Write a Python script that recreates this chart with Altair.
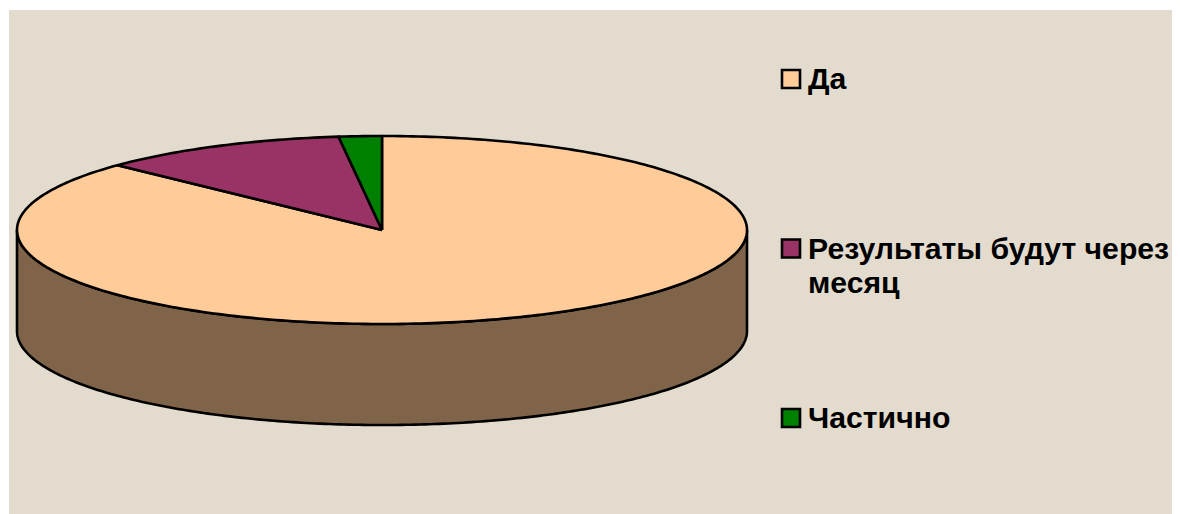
import math
import altair as alt
import pandas as pd

categories = ["Да", "Результаты будут через\nмесяц", "Частично"]
shares = [87.1, 11.0, 1.9]
slice_colors = ["#FFCC99", "#993366", "#008000"]
SIDE_COLOR = "#7F644A"
BG = "#E2DBCE"
DEPTH = 101 / 94  # pie thickness, in vertical radius units

# Wedge outlines on a unit circle; the x/y scales squash it into the ellipse.
rows = []
start = 0.0
total = sum(shares)
for cat, share in zip(categories, shares):
    end = start + share / total * 2 * math.pi
    n = max(4, int((end - start) * 60))
    pts = [(0.0, 0.0)] + [
        (math.sin(start + (end - start) * i / n), math.cos(start + (end - start) * i / n))
        for i in range(n + 1)
    ] + [(0.0, 0.0)]
    for k, (u, v) in enumerate(pts):
        rows.append({"cat": cat, "k": k, "u": u, "v": v})
    start = end
wedges = pd.DataFrame(rows)

side = pd.DataFrame(
    [
        {"u": math.cos(math.pi * i / 240), "v": -math.sin(math.pi * i / 240),
         "v2": -math.sin(math.pi * i / 240) - DEPTH}
        for i in range(241)
    ]
)
legend_df = pd.DataFrame(
    {"cat": categories, "color": slice_colors, "row": list(range(len(categories)))}
)

x_scale = alt.Scale(domain=[-373 / 365, 790 / 365], nice=False, zero=False)
y_scale = alt.Scale(domain=[-284 / 94, 220 / 94], nice=False, zero=False)
x_enc = alt.X("u:Q", scale=x_scale, axis=None)
y_enc = alt.Y("v:Q", scale=y_scale, axis=None)

side_layer = (
    alt.Chart(side)
    .mark_area(fill=SIDE_COLOR, stroke="black", strokeWidth=2.6, orient="vertical")
    .encode(
        x=x_enc,
        y=alt.Y("v:Q", scale=y_scale, axis=None, stack=None),
        y2="v2:Q",
    )
)

wedge_layers = [
    alt.Chart(wedges[wedges.cat == cat])
    .mark_line(fill=col, stroke="black", strokeWidth=2.6, strokeJoin="round", interpolate="linear")
    .encode(x=x_enc, y=y_enc, order="k:Q")
    for cat, col in zip(categories, slice_colors)
]

legend_y = alt.Y(
    "row:Q",
    scale=alt.Scale(domain=[0, len(categories) - 1], range=[69, 408], nice=False, zero=False),
    axis=None,
)
legend_symbols = (
    alt.Chart(legend_df)
    .mark_square(size=324, stroke="black", strokeWidth=2.6, opacity=1)
    .encode(
        x=alt.value(782),
        y=legend_y,
        fill=alt.Fill("color:N", scale=None),
    )
)
legend_text = (
    alt.Chart(legend_df)
    .mark_text(
        align="left",
        baseline="top",
        dy=-14,
        font="Liberation Sans",
        fontSize=30.2,
        fontWeight="bold",
        color="black",
        lineBreak="\n",
        lineHeight=34,
    )
    .encode(x=alt.value(799), y=legend_y, text="cat:N")
)

pie = alt.layer(side_layer, *wedge_layers)
legend = alt.layer(legend_symbols, legend_text)

chart = (
    alt.layer(pie, legend)
    .resolve_scale(y="independent", x="independent")
    .properties(
        width=1163,
        height=504,
        padding={"left": 1, "top": 2, "right": 0, "bottom": 0},
        autosize=alt.AutoSizeParams(type="none"),
        background="white",
    )
    .configure_view(fill=BG, stroke=None)
)

chart.save("out.html", embed_options={"renderer": "svg", "actions": False})
